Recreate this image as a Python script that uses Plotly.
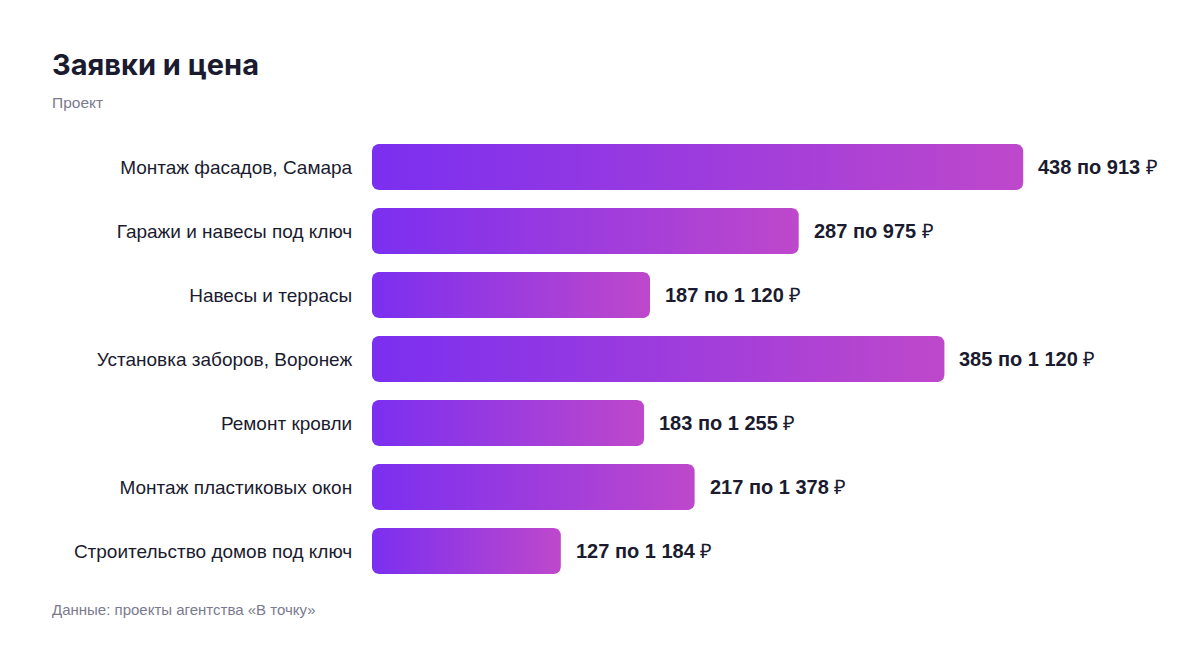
import numpy as np
import plotly.graph_objects as go

# данные
categories = ["Монтаж фасадов, Самара", "Гаражи и навесы под ключ", "Навесы и террасы",
              "Установка заборов, Воронеж", "Ремонт кровли", "Монтаж пластиковых окон",
              "Строительство домов под ключ"]
requests = [438, 287, 187, 385, 183, 217, 127]
prices = ["913", "975", "1 120", "1 120", "1 255", "1 378", "1 184"]

W, H = 1200, 648
ML, MR, MT, MB = 372, 40, 135, 65
XMAX = 530
plot_w = W - ML - MR
plot_h = H - MT - MB
c0, c1 = "#7b2ff0", "#be48cb"
dark = "#1b1b2f"
gray = "#7a7a8e"


def rounded_bar(x1, yc, half, r_px=7):
    # rounded rectangle polygon from 0 to x1 (data units)
    rx = r_px * XMAX / plot_w
    ry = r_px * 7 / plot_h
    y0, y1 = yc - half, yc + half
    xs, ys = [], []
    corners = [(x1 - rx, y0 + ry, -90, 0), (x1 - rx, y1 - ry, 0, 90),
               (rx, y1 - ry, 90, 180), (rx, y0 + ry, 180, 270)]
    for cx, cy, a0, a1 in corners:
        t = np.radians(np.linspace(a0, a1, 8))
        xs.extend(cx + rx * np.cos(t))
        ys.extend(cy + ry * np.sin(t))
    xs.append(xs[0])
    ys.append(ys[0])
    return xs, ys


fig = go.Figure()
for i, n in enumerate(requests):
    xs, ys = rounded_bar(n, i, 0.36)
    fig.add_trace(go.Scatter(x=xs, y=ys, mode="lines", fill="toself",
                             fillgradient=dict(type="horizontal",
                                               colorscale=[[0, c0], [1, c1]]),
                             line=dict(width=0, color=c0), hoverinfo="skip",
                             showlegend=False))
    fig.add_annotation(x=n, y=i, xref="x", yref="y", xanchor="left", yanchor="middle",
                       xshift=13, showarrow=False,
                       text="<b>%d по %s</b> ₽" % (n, prices[i]),
                       font=dict(size=20, color=dark, family="Liberation Sans, Arial"))

fig.update_layout(
    width=W, height=H,
    margin=dict(l=ML, r=MR, t=MT, b=MB),
    plot_bgcolor="white", paper_bgcolor="white",
    font=dict(family="Liberation Sans, Arial", color=dark),
    title=dict(text="<b>Заявки и цена</b>", xref="container", yref="container",
               x=52 / W, y=1 - 65 / H, xanchor="left", yanchor="middle",
               font=dict(size=29, family="Inter, Liberation Sans", color=dark)),
    xaxis=dict(range=[0, XMAX], visible=False, fixedrange=True),
    yaxis=dict(range=[6.5, -0.5], tickmode="array", tickvals=list(range(len(categories))),
               ticktext=categories, ticks="outside", ticklen=15,
               tickcolor="rgba(0,0,0,0)", showgrid=False, zeroline=False,
               showline=False, fixedrange=True, tickfont=dict(size=19, color=dark)),
)

fig.add_annotation(text="Проект", xref="paper", yref="paper",
                   x=(50 - ML) / plot_w, y=(H - MB - 102) / plot_h,
                   xanchor="left", yanchor="middle", showarrow=False,
                   font=dict(size=15.5, color=gray))
fig.add_annotation(text="Данные: проекты агентства «В точку»", xref="paper", yref="paper",
                   x=(50 - ML) / plot_w, y=(H - MB - 609) / plot_h,
                   xanchor="left", yanchor="middle", showarrow=False,
                   font=dict(size=15, color=gray))

# страница без отступа у body, чтобы картинка шла с (0, 0)
fig.write_html("out.html", config={"displayModeBar": False},
               post_script="document.body.style.margin='0';")
